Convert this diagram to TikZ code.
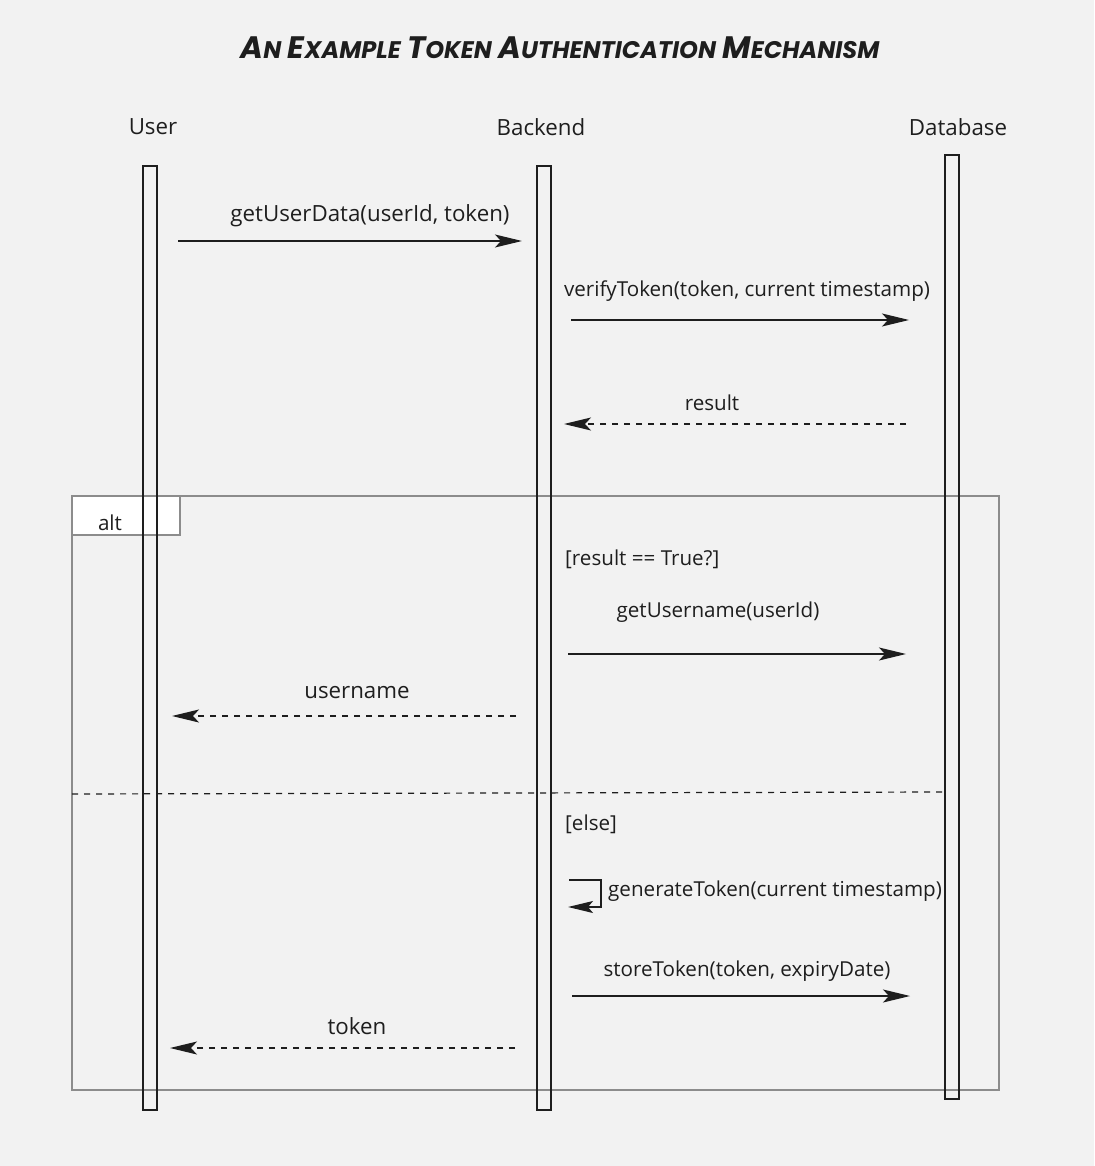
\documentclass[tikz,border=0pt]{standalone}
\usepackage{fontspec}
\setmainfont{Open Sans}
\newfontfamily\titlefont{Poppins}
\usetikzlibrary{arrows.meta}
\definecolor{bg}{HTML}{F2F2F2}
\definecolor{ink}{HTML}{1E1E1E}
\definecolor{frame}{HTML}{8C8C8C}
\tikzset{
  lbl/.style={font=\fontsize{20.6}{24}\selectfont, text=ink, inner sep=0pt},
  biglbl/.style={font=\fontsize{22.3}{26}\selectfont, text=ink, inner sep=0pt},
  lifeline/.style={draw=ink, line width=1.5pt, minimum width=14pt, inner sep=0pt},
  msg/.style={draw=ink, line width=1.3pt, -{Stealth[length=27pt,width=13pt,inset=6pt]}},
  reply/.style={msg, dash pattern=on 6pt off 6pt},
}
\newcommand{\Bg}[1]{{\fontsize{31}{34}\selectfont #1}}
\newcommand{\Sm}[1]{{\fontsize{24}{34}\selectfont #1}}
\begin{document}
\begin{tikzpicture}[x=1pt,y=-1pt]
\useasboundingbox[fill=bg] (0,0) rectangle (1094,1166);
% title
\node[inner sep=0pt, text=ink, font=\fontsize{27}{30}\selectfont] (title) at (560,48) {\titlefont\bfseries\itshape
 \Bg{A}\Sm{N} \Bg{E}\Sm{XAMPLE} \Bg{T}\Sm{OKEN} \Bg{A}\Sm{UTHENTICATION} \Bg{M}\Sm{ECHANISM}};
% alt frame
\node[draw=frame, line width=1.3pt, minimum width=927pt, minimum height=594pt, inner sep=0pt] (alt) at (535.5,793) {};
\node[draw=frame, fill=white, line width=1.3pt, minimum width=108pt, minimum height=39pt, inner sep=0pt, anchor=north west] (tag) at (alt.north west) {};
\node[lbl] (altlbl) at (110,523) {alt};
\coordinate (divL) at (72,794);
\coordinate (divR) at (944,792);
\draw[ink, line width=1.2pt, dash pattern=on 6pt off 6pt] (divL) -- (divR);
% lifelines
\node[lifeline, minimum height=944pt] (user) at (150,638) {};
\node[lifeline, minimum height=944pt] (backend) at (544,638) {};
\node[lifeline, minimum height=944pt] (db) at (952,627) {};
\node[biglbl] (userlbl) at (153,127) {User};
\node[biglbl] (backendlbl) at (541,127) {Backend};
\node[biglbl] (dblbl) at (958,127) {Database};
% messages
\coordinate (m1s) at (178,241); \coordinate (m1e) at (522,241);
\draw[msg] (m1s) -- (m1e);
\node[biglbl] (m1l) at (370,216) {getUserData(userId, token)};
\coordinate (m2s) at (571,320); \coordinate (m2e) at (909,320);
\draw[msg] (m2s) -- (m2e);
\node[lbl] (m2l) at (747,291) {verifyToken(token, current timestamp)};
\coordinate (m3s) at (906,424); \coordinate (m3e) at (564,424);
\draw[reply] (m3s) -- (m3e);
\node[lbl] (m3l) at (712,403) {result};
\node[lbl, anchor=west] (g1) at (565,559) {[result == True?]};
\coordinate (m4s) at (568,654); \coordinate (m4e) at (906,654);
\draw[msg] (m4s) -- (m4e);
\node[lbl] (m4l) at (718,612) {getUsername(userId)};
\coordinate (m5s) at (516,716); \coordinate (m5e) at (172,716);
\draw[reply] (m5s) -- (m5e);
\node[biglbl] (m5l) at (357,693) {username};
\node[lbl, anchor=west] (g2) at (565,824) {[else]};
\coordinate (m6s) at (569,880); \coordinate (m6e) at (568,907);
\draw[draw=ink, line width=1.3pt, -{Stealth[length=25pt,width=12pt,inset=5pt]}] (m6s) -- (601,880) -- (601,907) -- (m6e);
\node[lbl, anchor=west] (m6l) at (608,891) {generateToken(current timestamp)};
\coordinate (m7s) at (572,996); \coordinate (m7e) at (910,996);
\draw[msg] (m7s) -- (m7e);
\node[lbl] (m7l) at (747,971) {storeToken(token, expiryDate)};
\coordinate (m8s) at (515,1048); \coordinate (m8e) at (170,1048);
\draw[reply] (m8s) -- (m8e);
\node[biglbl] (m8l) at (357,1026) {token};
\end{tikzpicture}
\end{document}
